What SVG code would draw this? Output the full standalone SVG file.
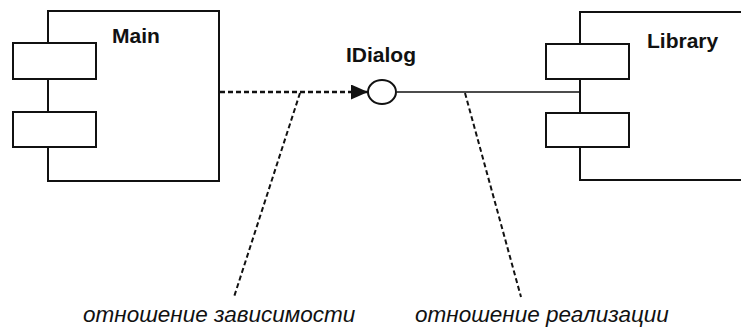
<svg xmlns="http://www.w3.org/2000/svg" width="741" height="333" viewBox="0 0 741 333">
<style>
.box{fill:#fff;stroke:#111;stroke-width:2}
.title{font-family:"Liberation Sans",Arial,sans-serif;font-weight:bold;font-size:21px;fill:#111}
.note{font-family:"Liberation Sans",Arial,sans-serif;font-style:italic;font-size:22.5px;fill:#111}
.dep{fill:none;stroke:#111;stroke-width:2.5;stroke-dasharray:5 3}
.lead{fill:none;stroke:#111;stroke-width:2;stroke-dasharray:5 3}
.real{fill:none;stroke:#111;stroke-width:1.3}
</style>
<defs>
<marker id="arr" markerWidth="17" markerHeight="15" refX="17" refY="7.5" orient="auto" markerUnits="userSpaceOnUse" viewBox="0 0 17 15">
<path d="M0,0 L17,7.5 L0,15 Z" fill="#111"/>
</marker>
</defs>
<g id="connectors">
<line class="dep" x1="220" y1="92" x2="368" y2="92" marker-end="url(#arr)"/>
<line class="real" x1="397" y1="92" x2="580" y2="92"/>
<line class="lead" x1="300" y1="93" x2="234" y2="297"/>
<line class="lead" x1="465" y1="93" x2="521" y2="297"/>
</g>
<g id="main">
<rect class="box" x="48" y="11" width="171" height="170"/>
<rect class="box" x="13" y="43" width="83" height="36"/>
<rect class="box" x="13" y="112" width="83" height="35"/>
<text class="title" x="112" y="43">Main</text>
</g>
<g id="idialog">
<ellipse class="box" cx="382" cy="92" rx="14" ry="12"/>
<text class="title" x="346" y="62">IDialog</text>
</g>
<g id="library">
<rect class="box" x="580" y="12" width="170" height="168"/>
<rect class="box" x="546" y="44" width="83" height="35"/>
<rect class="box" x="546" y="113" width="83" height="34"/>
<text class="title" x="647" y="48">Library</text>
</g>
<g id="labels">
<text class="note" x="83" y="322">отношение зависимости</text>
<text class="note" x="415" y="322">отношение реализации</text>
</g>
</svg>
